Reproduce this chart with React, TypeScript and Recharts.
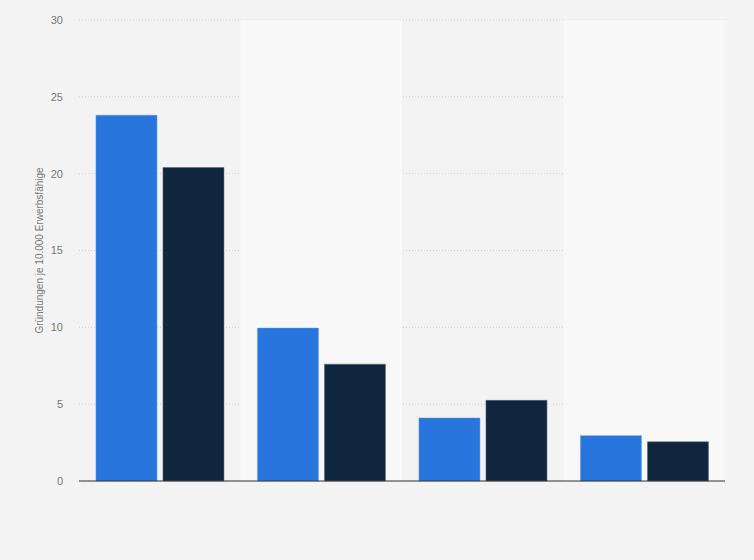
import { BarChart, Bar, XAxis, YAxis, CartesianGrid, ReferenceArea } from 'recharts'

// Gründungen je 10.000 Erwerbsfähige, two series per group
const categories = ['Gruppe 1', 'Gruppe 2', 'Gruppe 3', 'Gruppe 4']
const seriesA = [23.8, 9.95, 4.1, 2.95]
const seriesB = [20.4, 7.6, 5.25, 2.55]
const yTicks = [0, 5, 10, 15, 20, 25, 30]

const data = categories.map((name, i) => ({ name, a: seriesA[i], b: seriesB[i] }))

// every second category gets a lighter background band
const bandCategories = categories.filter((_, i) => i % 2 === 1)

export default function App() {
  return (
    <div style={{ position: 'absolute', left: 0, top: 0, width: 754, height: 560, background: '#f3f3f3' }}>
      <BarChart
        width={754}
        height={560}
        data={data}
        margin={{ top: 20, right: 29, bottom: 78, left: 0 }}
        barCategoryGap="10.5%"
        barGap={6}
        style={{ fontFamily: 'Liberation Sans, Arial, sans-serif' }}
      >
        {bandCategories.map((c) => (
          <ReferenceArea key={c} x1={c} x2={c} y1={0} y2={30} fill="#f8f8f8" fillOpacity={1} stroke="none" />
        ))}
        <CartesianGrid vertical={false} stroke="#cfcfcf" strokeDasharray="1 2" />
        <XAxis dataKey="name" tick={false} tickLine={false} axisLine={{ stroke: '#333', strokeWidth: 1.2 }} height={1} />
        <YAxis
          width={79}
          domain={[0, 30]}
          ticks={yTicks}
          axisLine={false}
          tickLine={false}
          tickMargin={10}
          stroke="#777"
          tick={{ fontSize: 11, fill: '#777' }}
          label={{
            value: 'Gründungen je 10.000 Erwerbsfähige',
            angle: -90,
            position: 'center',
            style: { fontSize: 10, fill: '#777', textAnchor: 'middle' },
          }}
        />
        <Bar dataKey="a" fill="#2876dd" stroke="#5b97e6" strokeWidth={0.5} isAnimationActive={false} />
        <Bar dataKey="b" fill="#0f263e" stroke="#55667a" strokeWidth={0.5} isAnimationActive={false} />
      </BarChart>
    </div>
  )
}
